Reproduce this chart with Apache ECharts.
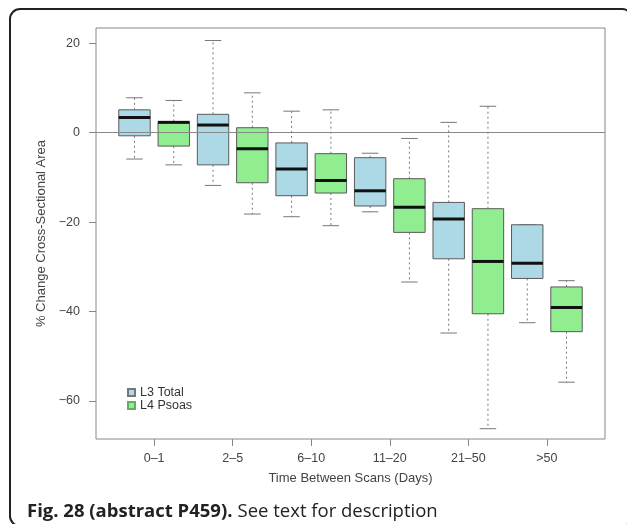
<!DOCTYPE html>
<html>
<head>
<meta charset="utf-8">
<script src="https://cdn.jsdelivr.net/npm/echarts@6/dist/echarts.min.js"></script>
<style>
  html, body { margin: 0; padding: 0; background: #fff; }
  #chart { width: 627px; height: 524px; }
</style>
</head>
<body>
<div id="chart"></div>
<script>
// Scan-interval groups shown on the x axis
var categories = ['0\u20131', '2\u20135', '6\u201310', '11\u201320', '21\u201350', '>50'];

// Five-number summaries per group: [lower whisker, Q1, median, Q3, upper whisker]
var l3Total = [
  [-5.9, -0.7, 3.4, 5.1, 7.8],
  [-11.8, -7.2, 1.7, 4.1, 20.6],
  [-18.8, -14.1, -8.1, -2.3, 4.8],
  [-17.7, -16.4, -13.0, -5.6, -4.6],
  [-44.8, -28.2, -19.3, -15.6, 2.3],
  [-42.5, -32.6, -29.2, -20.6, -20.6]
];
var l4Psoas = [
  [-7.2, -3.0, 2.3, 2.5, 7.2],
  [-18.2, -11.2, -3.6, 1.1, 8.9],
  [-20.8, -13.5, -10.7, -4.7, 5.1],
  [-33.4, -22.3, -16.7, -10.3, -1.3],
  [-66.2, -40.5, -28.8, -17.0, 5.9],
  [-55.8, -44.5, -39.1, -34.5, -33.1]
];

var yTicks = [-60, -40, -20, 0, 20];

// Boxes sit at positions 1..12; each group label sits between its pair
var groupCenters = categories.map(function (c, i) { return 2 * i + 1.5; });

function seriesData(stats, offset) {
  return stats.map(function (s, i) {
    return [2 * i + offset].concat(s);
  });
}

var WHISKER = '#777';
var BORDER = '#5a5a5a';

function renderBox(fill) {
  return function (params, api) {
    var x = api.value(0);
    var lo = api.coord([x, api.value(1)]);
    var q1 = api.coord([x, api.value(2)]);
    var md = api.coord([x, api.value(3)]);
    var q3 = api.coord([x, api.value(4)]);
    var hi = api.coord([x, api.value(5)]);
    var bw = api.size([0.8, 0])[0];
    var cw = api.size([0.42, 0])[0];
    var cx = lo[0];
    var dash = { stroke: WHISKER, lineWidth: 1, lineDash: [2, 3] };
    var solid = { stroke: WHISKER, lineWidth: 1 };
    return {
      type: 'group',
      children: [
        { type: 'line', shape: { x1: cx, y1: q3[1], x2: cx, y2: hi[1] }, style: dash },
        { type: 'line', shape: { x1: cx, y1: q1[1], x2: cx, y2: lo[1] }, style: dash },
        { type: 'line', shape: { x1: cx - cw / 2, y1: hi[1], x2: cx + cw / 2, y2: hi[1] }, style: solid },
        { type: 'line', shape: { x1: cx - cw / 2, y1: lo[1], x2: cx + cw / 2, y2: lo[1] }, style: solid },
        {
          type: 'rect',
          shape: { x: cx - bw / 2, y: q3[1], width: bw, height: q1[1] - q3[1] },
          style: { fill: fill, stroke: BORDER, lineWidth: 1 }
        },
        {
          type: 'line',
          shape: { x1: cx - bw / 2, y1: md[1], x2: cx + bw / 2, y2: md[1] },
          style: { stroke: '#111', lineWidth: 3 }
        }
      ]
    };
  };
}

var FONT = 'Liberation Sans, Arial, sans-serif';

function minusSign(v) {
  return String(v).replace('-', '\u2212');
}

var chart = echarts.init(document.getElementById('chart'), null, { renderer: 'canvas' });
chart.setOption({
  animation: false,
  backgroundColor: '#fff',
  title: {
    left: 22,
    top: 497,
    text: '{b|Fig. 28 (abstract P459).} {r|See text for description}',
    textStyle: {
      rich: {
        b: { fontFamily: 'Open Sans', fontWeight: 'bold', fontSize: 18.5, color: '#222' },
        r: { fontFamily: 'Open Sans', fontWeight: 'normal', fontSize: 18.5, color: '#222' }
      }
    }
  },
  graphic: [{
    type: 'rect',
    silent: true,
    shape: { x: 10, y: 9, width: 622, height: 517, r: 10 },
    style: { fill: 'none', stroke: '#222', lineWidth: 2 }
  }],
  legend: {
    orient: 'vertical',
    left: 127,
    top: 386,
    icon: 'rect',
    itemWidth: 7,
    itemHeight: 7,
    itemGap: 0,
    padding: 0,
    textStyle: { fontFamily: FONT, fontSize: 12.5, lineHeight: 12, color: '#333' },
    data: ['L3 Total', 'L4 Psoas']
  },
  grid: {
    left: 96, top: 28, right: 22, bottom: 85,
    show: true, borderColor: '#888', borderWidth: 1, backgroundColor: '#fff'
  },
  xAxis: {
    type: 'value',
    min: 0.02,
    max: 12.98,
    name: 'Time Between Scans (Days)',
    nameLocation: 'middle',
    nameGap: 33,
    nameTextStyle: { fontFamily: FONT, fontSize: 13, color: '#444' },
    axisLine: { show: false, onZero: false },
    splitLine: { show: false },
    axisTick: { show: true, length: 7, customValues: groupCenters, lineStyle: { color: '#888' } },
    axisLabel: {
      customValues: groupCenters,
      margin: 13,
      fontFamily: FONT, fontSize: 12.5, color: '#444',
      formatter: function (v) {
        var i = Math.round((v - 1.5) / 2);
        return categories[i];
      }
    }
  },
  yAxis: {
    type: 'value',
    min: -68.5,
    max: 23.4,
    name: '% Change Cross-Sectional Area',
    nameLocation: 'middle',
    nameGap: 44,
    nameRotate: 90,
    nameTextStyle: { fontFamily: FONT, fontSize: 13, color: '#444' },
    axisLine: { show: false, onZero: false },
    splitLine: { show: false },
    axisTick: { show: true, length: 7, customValues: yTicks, lineStyle: { color: '#888' } },
    axisLabel: {
      customValues: yTicks,
      margin: 16,
      fontFamily: FONT, fontSize: 12.5, color: '#444',
      formatter: minusSign
    }
  },
  series: [
    {
      name: 'L3 Total',
      type: 'custom',
      itemStyle: { color: '#add8e6', borderColor: '#777', borderWidth: 1 },
      renderItem: renderBox('#add8e6'),
      encode: { x: 0, y: [1, 2, 3, 4, 5] },
      data: seriesData(l3Total, 1),
      markLine: {
        silent: true,
        symbol: 'none',
        label: { show: false },
        lineStyle: { color: '#888', type: 'solid', width: 1 },
        data: [{ yAxis: 0 }]
      },
      z: 3
    },
    {
      name: 'L4 Psoas',
      type: 'custom',
      itemStyle: { color: '#90ee90', borderColor: '#6a6', borderWidth: 1 },
      renderItem: renderBox('#90ee90'),
      encode: { x: 0, y: [1, 2, 3, 4, 5] },
      data: seriesData(l4Psoas, 2),
      z: 3
    }
  ]
});
</script>
</body>
</html>
